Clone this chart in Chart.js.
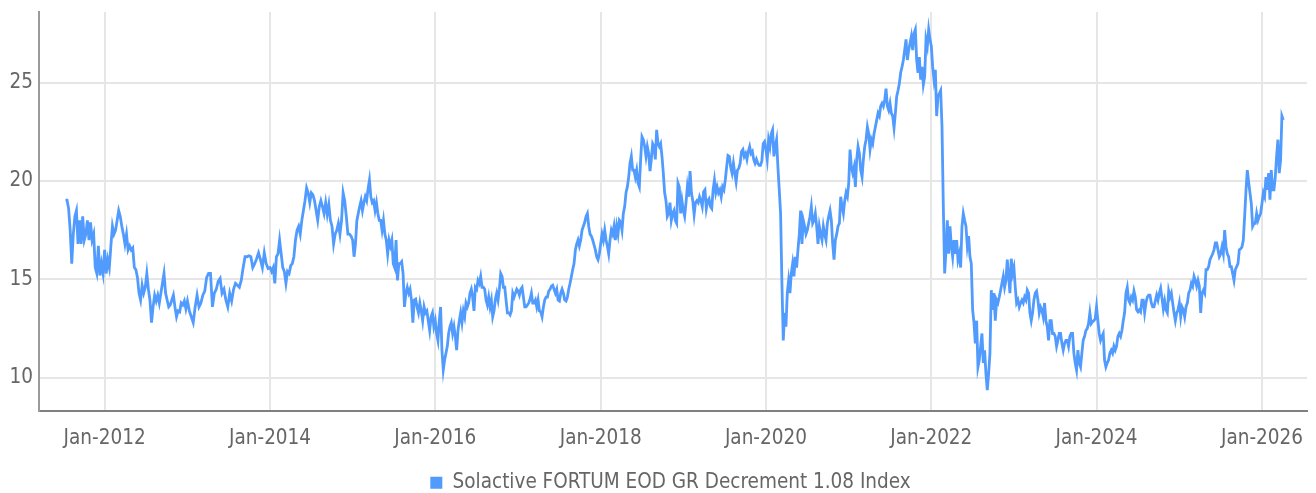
<!DOCTYPE html>
<html><head><meta charset="utf-8">
<script src="https://cdn.jsdelivr.net/npm/chart.js@4"></script>
<style>html,body{margin:0;padding:0;background:#fff;overflow:hidden}#wrap{width:1316px;height:493px}</style>
</head><body><div id="wrap"><canvas id="c" width="1316" height="493"></canvas></div>
<script>
const seriesName = 'Solactive FORTUM EOD GR Decrement 1.08 Index';
const firstDate = '2011-07-12';
const lastDate = '2026-04-05';
const yTicks = [10, 15, 20, 25];
const xTickYears = [2012, 2014, 2016, 2018, 2020, 2022, 2024, 2026];

const v2011 = [19.03, 19.03, 18.6, 17.5, 15.8, 17.3, 18.2, 18.5, 16.8, 18.0, 16.8, 18.2, 17.0, 17.3, 18.0, 17.0, 17.9, 17.0, 17.3, 15.6, 15.3, 16.7, 15.2, 15.8, 15.3];
const v2012 = [16.5, 15.3, 16.0, 15.6, 16.7, 17.7, 17.3, 17.5, 18.0, 18.5, 18.2, 17.7, 17.3, 16.8, 17.3, 16.5, 16.7, 16.5, 16.6, 15.6, 15.5, 15.1, 14.3, 13.95, 14.7, 14.3, 14.6, 15.3, 14.5, 13.95, 12.8, 13.6, 14.2, 13.9, 14.2, 13.8, 14.3, 14.8, 15.3, 14.3, 13.95, 13.6, 13.7, 13.95, 14.2, 13.6, 13.1, 13.4, 13.35, 13.8, 13.7, 13.9, 13.5];
const v2013 = [13.9, 13.4, 13.1, 12.8, 13.6, 14.2, 13.6, 13.8, 14.2, 14.4, 15.1, 15.3, 15.3, 13.6, 14.3, 14.5, 14.9, 15.05, 14.3, 14.5, 13.95, 13.6, 14.3, 13.9, 14.5, 14.8, 14.7, 14.6, 14.95, 15.6, 16.15, 16.15, 16.2, 16.15, 15.6, 15.8, 16.05, 16.35, 16.0, 15.6, 16.35, 15.8, 15.55];
const v2014 = [15.6, 15.4, 15.6, 14.8, 16.15, 16.3, 17.0, 16.3, 15.6, 15.4, 14.8, 15.4, 15.3, 15.7, 15.8, 16.15, 17.0, 17.5, 17.7, 17.3, 18.0, 18.5, 19.0, 19.65, 19.4, 18.9, 19.4, 19.3, 19.0, 18.5, 18.0, 18.7, 19.0, 18.7, 18.35, 18.9, 18.3, 18.8, 18.0, 17.7, 16.8, 17.3, 17.5, 17.85, 17.3, 18.0, 19.4, 19.0, 18.2, 17.3, 17.3, 17.2];
const v2015 = [17.0, 16.15, 16.8, 18.0, 18.35, 18.7, 19.0, 18.5, 18.9, 19.2, 19.0, 19.6, 20.05, 19.2, 18.9, 19.0, 18.5, 18.9, 18.35, 18.0, 18.0, 17.5, 18.0, 17.3, 17.0, 16.3, 17.0, 16.7, 17.0, 15.8, 15.6, 17.0, 14.95, 15.8, 15.8, 15.9, 15.3, 13.6, 14.3, 14.6, 14.3, 14.5, 13.95, 12.8, 13.95, 14.0, 13.6, 13.3, 13.8, 13.4, 12.9, 13.6, 13.3, 13.4, 12.9, 12.4, 13.1, 13.3, 12.6];
const v2016 = [12.9, 12.25, 11.9, 12.9, 13.6, 11.4, 10.4, 10.9, 11.25, 11.6, 12.25, 12.6, 12.8, 12.25, 12.6, 12.1, 11.4, 12.4, 12.9, 13.3, 12.8, 13.4, 13.1, 13.8, 13.6, 13.8, 14.3, 14.5, 14.1, 13.4, 14.6, 14.5, 14.95, 14.8, 15.15, 14.6, 14.6, 14.5, 13.95, 13.7, 14.1, 13.6, 13.95, 13.1, 13.4, 14.0, 14.3, 13.95, 14.5, 15.3, 15.15, 14.6, 14.6, 13.95, 13.3, 13.3, 13.2, 13.4, 14.3, 14.1, 14.3, 14.5];
const v2017 = [14.4, 14.2, 14.5, 14.6, 14.1, 13.6, 13.6, 13.7, 13.8, 14.0, 14.3, 13.8, 13.8, 13.95, 13.6, 13.95, 13.4, 13.35, 13.1, 13.6, 13.95, 14.1, 14.1, 14.4, 14.5, 14.65, 14.7, 14.5, 14.3, 14.5, 13.95, 13.9, 14.3, 14.5, 14.3, 13.95, 13.9, 14.1, 14.5, 14.8, 15.15, 15.5, 15.8, 16.5, 16.8, 17.0, 16.7, 17.0, 17.5, 17.7, 17.9, 18.2, 18.35, 17.7, 17.3, 17.2, 17.0, 16.75, 16.5, 16.15, 16.0, 16.3];
const v2018 = [16.8, 17.3, 17.0, 17.5, 17.0, 16.7, 16.3, 17.0, 17.5, 17.3, 17.7, 17.0, 17.7, 17.3, 18.0, 17.9, 17.5, 18.35, 18.7, 19.4, 19.7, 20.2, 20.9, 21.25, 20.55, 20.55, 20.2, 20.55, 19.9, 19.7, 21.1, 22.25, 22.1, 21.75, 21.25, 21.75, 21.4, 20.5, 21.1, 21.9, 21.75, 21.1, 22.6, 21.9, 21.75, 21.9, 21.25, 20.4, 19.4, 19.0, 18.2, 18.35, 18.9, 18.0, 18.35, 18.5, 18.0, 17.85, 19.9, 19.7, 18.35, 19.0];
const v2019 = [18.5, 18.2, 18.9, 19.7, 19.2, 20.5, 19.4, 19.0, 18.3, 18.9, 19.0, 18.9, 19.2, 19.0, 18.7, 19.45, 19.55, 18.6, 19.0, 19.1, 18.7, 18.6, 19.55, 20.05, 19.4, 19.7, 19.4, 19.55, 19.2, 19.7, 19.55, 20.05, 20.7, 21.3, 21.25, 20.7, 20.4, 20.9, 20.4, 19.95, 20.55, 20.65, 20.9, 21.5, 21.6, 21.25, 21.4, 21.1, 21.5, 21.75, 21.4, 21.5, 21.1, 20.9, 21.1, 20.9, 20.8, 20.8, 21.0, 21.9, 22.0];
const v2020 = [21.6, 21.1, 22.1, 21.75, 22.4, 22.6, 21.25, 21.75, 22.1, 20.7, 19.55, 18.35, 14.8, 11.9, 13.3, 12.6, 14.3, 14.95, 14.3, 15.3, 15.8, 15.15, 16.15, 15.6, 16.5, 17.3, 18.5, 16.8, 18.0, 17.7, 17.3, 17.5, 17.85, 18.2, 18.7, 17.85, 18.0, 18.35, 17.7, 16.8, 17.7, 17.3, 17.0, 17.7, 17.3, 17.0, 17.85, 18.2, 18.5, 18.0, 16.8, 16.0, 17.0, 17.3, 17.7, 17.85, 19.2, 18.7, 18.35, 19.0, 19.4, 19.2];
const v2021 = [19.9, 21.6, 20.7, 20.4, 20.7, 19.7, 21.1, 21.75, 21.4, 20.55, 20.2, 21.1, 21.75, 22.1, 22.75, 22.4, 21.6, 22.1, 21.9, 22.4, 22.75, 23.1, 23.45, 23.3, 23.8, 23.95, 23.8, 24.1, 24.7, 23.8, 23.6, 23.95, 23.45, 23.3, 22.7, 23.45, 24.3, 24.6, 24.95, 25.5, 25.8, 26.15, 26.65, 27.2, 26.15, 26.65, 27.0, 27.35, 26.65, 27.5, 27.7, 26.15, 25.5, 26.3, 25.15, 25.8, 24.9, 25.3, 27.2, 26.85, 27.7, 27.2];
const v2022 = [26.85, 25.8, 25.15, 25.65, 23.3, 24.3, 24.45, 24.6, 22.8, 18.7, 15.3, 16.5, 18.0, 16.3, 17.7, 16.7, 16.15, 17.0, 16.3, 17.0, 16.0, 16.3, 15.6, 17.7, 18.35, 18.0, 17.7, 16.7, 17.2, 16.15, 15.8, 13.45, 12.8, 11.75, 12.9, 10.55, 10.9, 11.6, 12.25, 10.75, 11.4, 10.2, 9.37, 10.2, 11.25, 14.45, 13.45, 14.3, 12.9, 13.95, 13.8, 14.1, 14.45, 14.8, 15.15, 14.6, 14.95, 16.0, 15.15, 14.3, 16.05, 15.3];
const v2023 = [15.6, 14.6, 13.8, 13.95, 13.6, 13.8, 13.95, 13.8, 14.1, 13.95, 14.45, 14.3, 13.3, 12.9, 13.3, 13.95, 14.3, 14.4, 13.95, 13.3, 13.6, 13.45, 13.1, 13.8, 12.9, 12.6, 11.9, 12.9, 12.9, 12.25, 12.25, 12.1, 11.6, 11.9, 12.25, 12.25, 11.75, 11.4, 11.75, 11.9, 11.9, 11.6, 12.1, 12.25, 12.25, 11.25, 10.75, 10.4, 11.4, 10.75, 10.55, 11.25, 11.9, 12.1, 12.4, 12.5, 12.75, 13.3, 12.75, 12.85, 12.9, 13.0];
const v2024 = [13.6, 12.9, 12.25, 11.9, 12.1, 12.25, 10.9, 10.55, 10.75, 10.9, 11.25, 11.4, 11.25, 11.6, 11.4, 11.6, 12.1, 12.25, 12.1, 12.4, 12.9, 13.3, 14.3, 14.6, 13.95, 13.8, 14.1, 13.95, 14.4, 14.1, 13.45, 13.35, 13.45, 13.35, 13.95, 13.95, 13.3, 13.8, 14.1, 14.2, 14.2, 13.8, 13.6, 13.6, 13.9, 14.2, 13.95, 14.3, 14.55, 14.05, 13.5, 13.9, 13.45, 13.3, 14.4, 14.1, 14.3, 13.8, 13.3, 12.9, 13.3, 13.45];
const v2025 = [13.8, 13.1, 13.6, 13.45, 13.1, 13.6, 13.8, 14.3, 14.45, 14.8, 14.65, 15.15, 14.95, 14.65, 14.95, 14.65, 13.3, 14.3, 14.45, 14.3, 15.5, 15.5, 15.65, 16.0, 16.15, 16.3, 16.5, 16.85, 16.85, 16.5, 16.15, 16.3, 16.65, 16.3, 17.5, 16.65, 16.3, 16.15, 15.65, 15.65, 15.3, 14.95, 15.5, 15.65, 15.8, 16.5, 16.55, 16.65, 17.0, 18.2, 19.5, 20.55, 19.95, 19.4, 18.85, 17.7, 17.85, 17.85, 18.35, 18.0, 18.2, 18.35];
const v2026 = [18.85, 19.4, 19.2, 20.2, 19.55, 20.4, 19.05, 20.55, 19.55, 19.55, 20.2, 21.25, 22.1, 20.4, 21.05, 23.3, 23.1];

const yearly = [
  [2011, v2011], [2012, v2012], [2013, v2013], [2014, v2014], [2015, v2015], [2016, v2016],
  [2017, v2017], [2018, v2018], [2019, v2019], [2020, v2020], [2021, v2021], [2022, v2022],
  [2023, v2023], [2024, v2024], [2025, v2025], [2026, v2026]
];

const points = [];
const firstYear = yearly[0][0];
const lastYear = yearly[yearly.length - 1][0];
yearly.forEach(([yr, vals]) => {
  const s = yr === firstYear ? Date.parse(firstDate) : Date.UTC(yr, 0, 1);
  const e = yr === lastYear ? Date.parse(lastDate) : Date.UTC(yr + 1, 0, 1);
  const step = yr === lastYear ? (e - s) / (vals.length - 1) : (e - s) / vals.length;
  vals.forEach((v, i) => points.push({x: s + i * step, y: v}));
});

const BLUE = 'rgb(80,155,253)';
const TEXT = '#666666';
const FONT = "'DejaVu Sans Condensed', 'Liberation Sans Narrow', sans-serif";
const FSIZE = 20.5;
const GRID = '#e6e6e6';

new Chart(document.getElementById('c'), {
  type: 'line',
  data: {
    datasets: [{
      label: seriesName,
      data: points,
      borderColor: BLUE,
      backgroundColor: BLUE,
      borderWidth: 2.8,
      pointRadius: 0,
      tension: 0,
      fill: false
    }]
  },
  options: {
    responsive: false,
    animation: false,
    parsing: false,
    layout: {padding: {left: 0, right: 9, top: 12, bottom: 0}},
    scales: {
      x: {
        type: 'linear',
        min: Date.UTC(2011, 2, 17),
        max: Date.UTC(2026, 6, 19),
        afterBuildTicks: s => { s.ticks = xTickYears.map(y => ({value: Date.UTC(y, 0, 1)})); },
        afterFit: s => { s.height = 41.5; s.paddingLeft = 0; s.paddingRight = 0; },
        ticks: {
          callback: v => 'Jan-' + new Date(v).getUTCFullYear(),
          color: TEXT, font: {family: FONT, size: FSIZE}, padding: 15,
          maxRotation: 0, autoSkip: false
        },
        grid: {color: GRID, lineWidth: 2, drawTicks: false},
        border: {display: true, color: '#808080', width: 2}
      },
      y: {
        min: 8.31,
        max: 28.59,
        afterBuildTicks: s => { s.ticks = yTicks.map(v => ({value: v})); },
        afterFit: s => { s.width = 39; s.paddingTop = 0; s.paddingBottom = 0; },
        ticks: {color: TEXT, font: {family: FONT, size: FSIZE}, padding: 6},
        grid: {color: GRID, lineWidth: 2, drawTicks: false},
        border: {display: true, color: '#9a9a9a', width: 2}
      }
    },
    plugins: {
      legend: {
        position: 'bottom',
        labels: {
          boxWidth: 12, boxHeight: 12, padding: 10,
          color: TEXT, font: {family: FONT, size: FSIZE},
          generateLabels: chart => Chart.defaults.plugins.legend.labels.generateLabels(chart).map(l => Object.assign(l, {lineWidth: 0}))
        }
      },
      tooltip: {enabled: false}
    }
  },
  plugins: [{
    id: 'shiftLegend',
    afterLayout(chart) {
      const l = chart.legend;
      if (l) { l.top += 10; l.bottom += 10; l.left += 17; l.right += 17; }
    }
  }]
});
</script>
</body></html>
